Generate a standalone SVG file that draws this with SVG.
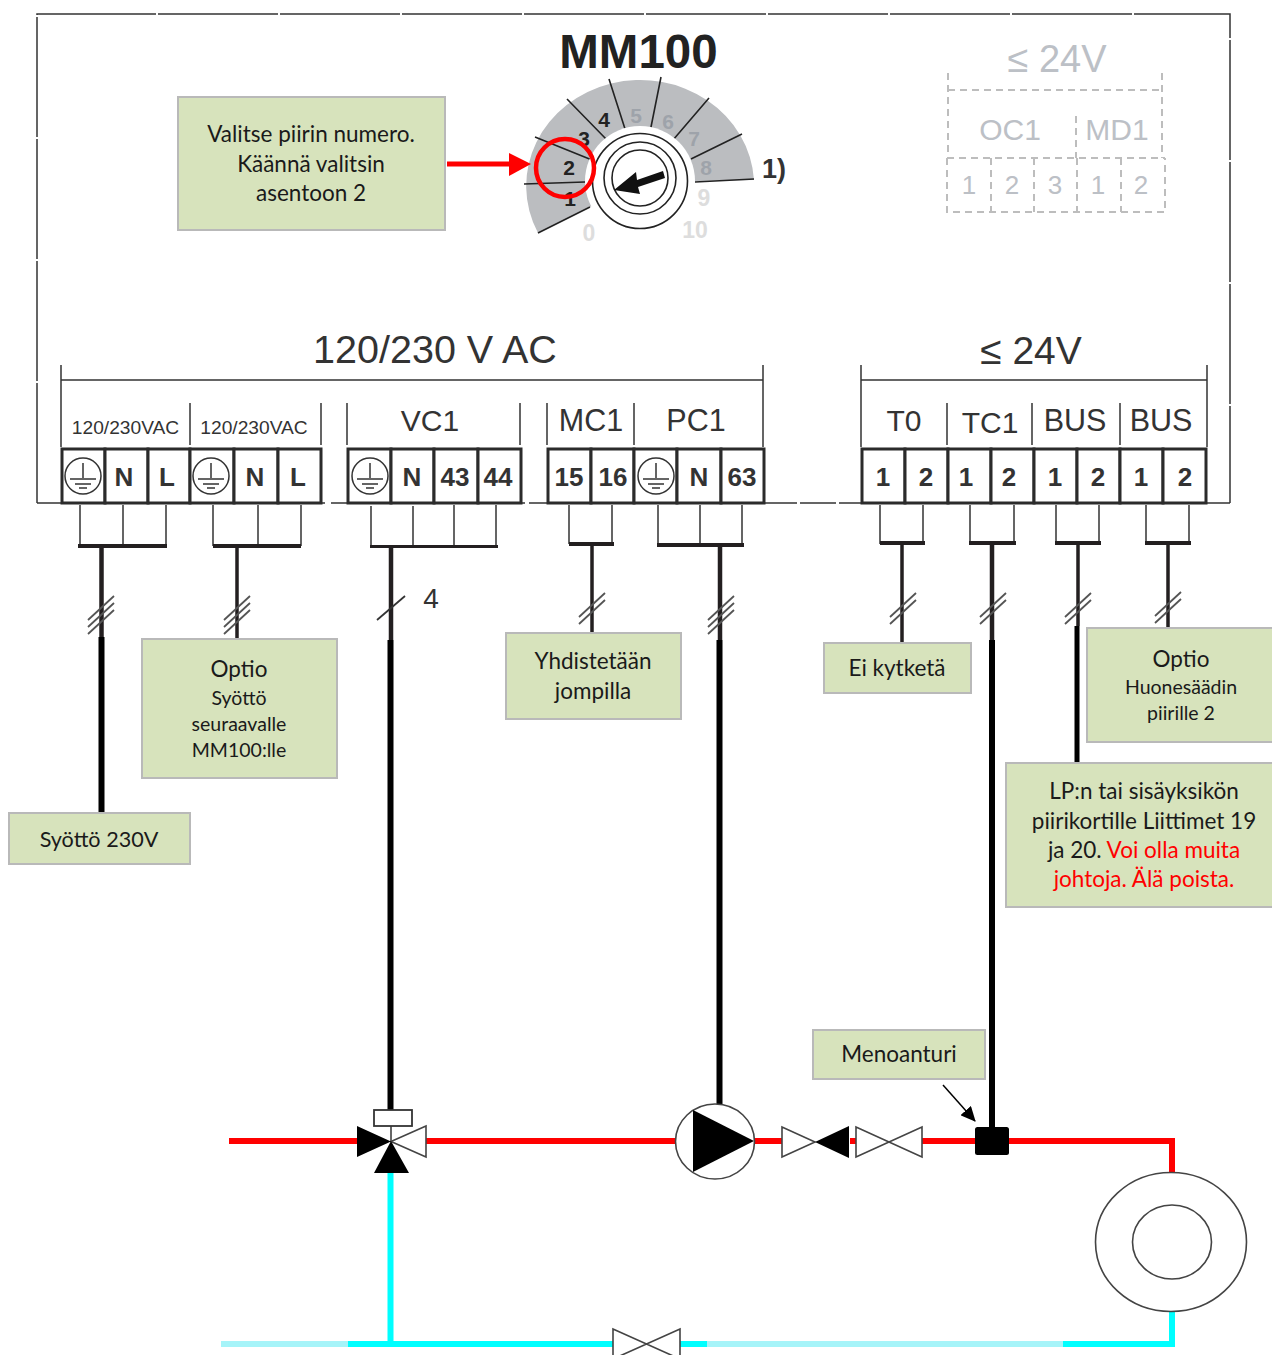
<svg xmlns="http://www.w3.org/2000/svg" width="1272" height="1355" viewBox="0 0 1272 1355">
<style>
text{font-family:"Liberation Sans",Arial,sans-serif;text-anchor:middle;fill:#333}
.b{font-weight:bold}
.note text{font-family:Lato,"Open Sans",sans-serif;fill:#1a1a1a;font-size:22.5px}
.note .s{font-size:19.5px}
.note .red{fill:#f00}
.box{fill:#d7e3bc;stroke:#b9b9b9;stroke-width:2}
.cell{fill:#fff;stroke:#2b2b2b;stroke-width:3}
.hdr{fill:none;stroke:#333;stroke-width:1.5}
.tick{fill:none;stroke:#333;stroke-width:1.5}
.bar{stroke:#231f20;stroke-width:4;fill:none}
.hash{stroke:#555;stroke-width:1.8;fill:none}
.wire{stroke:#231f20;fill:none}
.blk{stroke:#000;fill:none}
.hot{stroke:#f00;stroke-width:6;fill:none}
.cold{stroke:#0ff;stroke-width:6;fill:none}
.pale{stroke:#a6f4f9;stroke-width:6;fill:none}
.sym{fill:#fff;stroke:#444;stroke-width:1.6}
.dash{fill:none;stroke:#bdbdbd;stroke-width:2;stroke-dasharray:7 5}
.seg{stroke:#222;stroke-width:1.6;fill:none}
</style>
<defs>
<g id="gnd" fill="none" stroke="#333" stroke-width="1.5"><circle r="18"/><path d="M0-13V2M-13 3H13M-8 8H8M-4 12H4"/></g>
<marker id="ah" markerWidth="16" markerHeight="14" refX="14" refY="7" orient="auto" markerUnits="userSpaceOnUse"><path d="M0 0L15 7L0 14Z" fill="#000"/></marker>
<g id="hash3" class="hash"><path d="M-13 12L13-12M-13 19L13-5M-13 26L13 2"/></g>
<g id="hash2" class="hash"><path d="M-13 12L13-12M-13 19L13-5"/></g>
</defs>

<g id="frame" fill="none" stroke="#333" stroke-width="1.5">
<path d="M37 503V14H1230V503" stroke-dasharray="120 2"/>
<path d="M37 503H325M331 503H525M529 503H797M800 503H836M839 503H1230"/>
</g>

<g id="dial">
<path d="M538 233A114 106 0 1 1 754 180L640 182Z" fill="#bbbdc0"/>
<g class="seg">
<path d="M538 233L590 207M524 184L585 182M535 137L592 160M567 99L607 140M609 79L626 132M661 77L650 132M709 98L673 140M742 134L691 159M754 179L695 182"/>
</g>
<circle cx="640" cy="181" r="55" fill="#fff"/>
<circle cx="640" cy="181" r="47.500" fill="#fff" stroke="#222" stroke-width="1.600"/>
<circle cx="640" cy="178" r="36" fill="#fff" stroke="#222" stroke-width="1.600"/>
<circle cx="640" cy="178" r="28" fill="#fff" stroke="#222" stroke-width="1.600"/>
<path d="M663 171L637 180L636 172L614 190L640 194L638 187L665 178Z" fill="#111"/>
<text x="638.500" y="68" class="b" font-size="47.500" style="fill:#222">MM100</text>
<g class="b" font-size="21">
<text x="604" y="127" style="fill:#222">4</text><text x="584" y="146" style="fill:#222">3</text><text x="569" y="175" style="fill:#222">2</text><text x="570" y="206" style="fill:#222">1</text>
<text x="636" y="123" style="fill:#9ea3aa">5</text><text x="668" y="129" style="fill:#9ea3aa">6</text><text x="694" y="146" style="fill:#9ea3aa">7</text><text x="706" y="175" style="fill:#9ea3aa">8</text>
</g>
<g class="b" font-size="23">
<text x="704" y="206" style="fill:#ddd">9</text><text x="695" y="238" style="fill:#ddd">10</text><text x="589" y="241" style="fill:#ddd">0</text>
</g>
<text x="774" y="178" class="b" font-size="27">1)</text>
</g>

<g id="selector-note" class="note">
<rect class="box" x="178" y="97" width="267" height="133"/>
<text x="311" y="142">Valitse piirin numero.</text>
<text x="311" y="172">Käännä valitsin</text>
<text x="311" y="201">asentoon 2</text>
</g>
<g id="selector-arrow">
<path d="M447 164H512" stroke="#f00" stroke-width="5" fill="none"/>
<path d="M509 153L531 164L509 176Z" fill="#f00"/>
<circle cx="565" cy="168" r="29" fill="none" stroke="#f00" stroke-width="4.500"/>
</g>

<g id="optional-24v">
<text x="1057" y="72" font-size="38" style="fill:#bcc0c6">≤ 24V</text>
<path class="dash" d="M948 73V158M1162 73V158M948 90H1162M1076 116V158M947 158H1165M947 158V212H1165V158M991 158V212M1034 158V212M1077 158V212M1121 158V212"/>
<g font-size="30"><text x="1010" y="140" style="fill:#bcc0c6">OC1</text><text x="1117" y="140" style="fill:#bcc0c6">MD1</text></g>
<g font-size="26"><text x="969" y="194" style="fill:#bcc0c6">1</text><text x="1012" y="194" style="fill:#bcc0c6">2</text><text x="1055" y="194" style="fill:#bcc0c6">3</text><text x="1098" y="194" style="fill:#bcc0c6">1</text><text x="1141" y="194" style="fill:#bcc0c6">2</text></g>
</g>

<g id="header-ac">
<text x="435" y="363" font-size="39.500">120/230 V AC</text>
<path class="hdr" d="M61 447V365M61 380H763M763 365V447M190 403V445M321 403V445M347 403V445M520 403V445M547 403V445M634 403V445"/>
<text x="125.500" y="434" font-size="19.200">120/230VAC</text>
<text x="254" y="434" font-size="19.200">120/230VAC</text>
<text x="430" y="431" font-size="30">VC1</text>
<text x="591" y="431" font-size="30.500">MC1</text>
<text x="696" y="431" font-size="30.500">PC1</text>
</g>
<g id="header-24v">
<text x="1031" y="364" font-size="39">≤ 24V</text>
<path class="hdr" d="M861 447V365M861 380H1207M1207 365V447M947 403V445M1032 403V445M1120 403V445"/>
<text x="904" y="431" font-size="30">T0</text>
<text x="990" y="433" font-size="30">TC1</text>
<text x="1075" y="431" font-size="30.500">BUS</text>
<text x="1161" y="431" font-size="30.500">BUS</text>
</g>

<g id="terminal-supply" class="b" font-size="26">
<rect class="cell" x="62" y="449" width="43" height="54"/><rect class="cell" x="105" y="449" width="43" height="54"/><rect class="cell" x="148" y="449" width="42" height="54"/><rect class="cell" x="190" y="449" width="44" height="54"/><rect class="cell" x="234" y="449" width="44" height="54"/><rect class="cell" x="278" y="449" width="43" height="54"/>
<use href="#gnd" x="83" y="476"/><use href="#gnd" x="211" y="476"/>
<text x="124" y="486">N</text><text x="167" y="486">L</text><text x="255" y="486">N</text><text x="298" y="486">L</text>
</g>
<g id="terminal-vc1" class="b" font-size="26">
<rect class="cell" x="348" y="449" width="43" height="54"/><rect class="cell" x="391" y="449" width="43" height="54"/><rect class="cell" x="434" y="449" width="44" height="54"/><rect class="cell" x="478" y="449" width="43" height="54"/>
<use href="#gnd" x="370" y="476"/>
<text x="412" y="486">N</text><text x="455" y="486">43</text><text x="498" y="486">44</text>
</g>
<g id="terminal-mc1-pc1" class="b" font-size="26">
<rect class="cell" x="548" y="449" width="43" height="54"/><rect class="cell" x="591" y="449" width="43" height="54"/><rect class="cell" x="634" y="449" width="43" height="54"/><rect class="cell" x="677" y="449" width="44" height="54"/><rect class="cell" x="721" y="449" width="43" height="54"/>
<use href="#gnd" x="656" y="476"/>
<text x="569" y="486">15</text><text x="613" y="486">16</text><text x="699" y="486">N</text><text x="742" y="486">63</text>
</g>
<g id="terminal-low" class="b" font-size="26">
<rect class="cell" x="862" y="449" width="43" height="54"/><rect class="cell" x="905" y="449" width="43" height="54"/><rect class="cell" x="948" y="449" width="43" height="54"/><rect class="cell" x="991" y="449" width="43" height="54"/><rect class="cell" x="1034" y="449" width="43" height="54"/><rect class="cell" x="1077" y="449" width="43" height="54"/><rect class="cell" x="1120" y="449" width="43" height="54"/><rect class="cell" x="1163" y="449" width="43" height="54"/>
<text x="883" y="486">1</text><text x="926" y="486">2</text><text x="966" y="486">1</text><text x="1009" y="486">2</text><text x="1055" y="486">1</text><text x="1098" y="486">2</text><text x="1141" y="486">1</text><text x="1185" y="486">2</text>
</g>

<g id="connectors">
<path class="tick" d="M80 505V546M123 505V546M166 505V546M213 505V546M258 505V546M301 505V546M371 506V546M413 506V546M454 505V546M496 505V546M569 505V544M612 505V544M658 505V545M700 505V545M742 505V545M880 505V544M923 505V544M970 505V544M1014 505V544M1056 505V544M1099 505V544M1146 505V544M1189 505V544"/>
<path class="bar" d="M78 546H167M213 546H301"/>
<path class="bar" style="stroke-width:3" d="M370 546.500H498"/>
<path class="bar" d="M569 544H614M657 545H744M880 543H925M969 543H1016M1055 543H1101M1145 543H1191"/>
<path class="wire" stroke-width="4.500" d="M101.500 546V637M391 546V640M720 546V640M992 543V640"/>
<path class="wire" stroke-width="3.500" d="M237 546V638M592 544V632M902 543V642M1078 543V626M1168 543V628"/>
<path class="blk" stroke-width="6" d="M101.500 637V812M390.500 640V1110M719.500 640V1105M992 640V1130"/>
<path class="blk" stroke-width="5" d="M1077 626V763"/>
<use href="#hash3" x="101" y="608"/><use href="#hash3" x="237" y="608"/><use href="#hash2" x="592" y="605"/><use href="#hash3" x="721" y="608"/><use href="#hash2" x="903" y="605"/><use href="#hash2" x="993" y="605"/><use href="#hash2" x="1078" y="605"/><use href="#hash2" x="1168" y="604"/>
<path d="M377 620L405 596" stroke="#333" stroke-width="1.800" fill="none"/>
<text x="431" y="608" font-size="28">4</text>
<path d="M943 1085L975 1121" stroke="#000" stroke-width="1.500" fill="none" marker-end="url(#ah)"/>
</g>

<g id="pipes">
<path class="hot" d="M229 1141H358M425 1141H677M755 1141H782M850 1141H856M922 1141H975M1009 1141H1172V1175"/>
<path class="pale" d="M221 1344H348M707 1344H1063"/>
<path class="cold" d="M390.500 1172V1344M348 1344H613M680 1344H707M1063 1344H1172V1312"/>
</g>

<g id="mixing-valve">
<rect x="374" y="1110" width="38" height="16" fill="#fff" stroke="#333" stroke-width="1.800"/>
<path d="M391 1126V1141" stroke="#333" stroke-width="1.500"/>
<path class="sym" d="M426 1126V1157L391 1141.500Z"/>
<path d="M357 1126V1157L391 1141.500ZM391 1141L374 1173H409Z" fill="#000"/>
</g>
<g id="pump">
<ellipse class="sym" cx="715" cy="1141.500" rx="39.500" ry="37.500"/>
<path d="M693 1110V1172L754 1141Z" fill="#000"/>
</g>
<g id="valve-1">
<path class="sym" d="M782 1127V1157L815 1142Z"/>
<path d="M849 1126V1158L815 1142Z" fill="#000"/>
</g>
<g id="valve-2"><path class="sym" d="M856 1127V1157L922 1127V1157Z"/></g>
<g id="valve-3"><path class="sym" d="M613 1329V1359L680 1329V1359Z"/></g>
<g id="sensor"><rect x="975" y="1127" width="34" height="28" rx="2.500" fill="#000"/></g>
<g id="radiator" fill="#fff" stroke="#444" stroke-width="1.600">
<ellipse cx="1171" cy="1242" rx="75.500" ry="69.500"/>
<ellipse cx="1172" cy="1242" rx="39.500" ry="37"/>
</g>

<g id="note-optio-syotto" class="note">
<rect class="box" x="142" y="639" width="195" height="139"/>
<text x="239" y="677">Optio</text>
<text class="s" x="239" y="705">Syöttö</text>
<text class="s" x="239" y="731">seuraavalle</text>
<text class="s" x="239" y="757">MM100:lle</text>
</g>
<g id="note-syotto" class="note">
<rect class="box" x="9" y="813" width="181" height="51"/>
<text x="99" y="847" style="font-size:21.600px">Syöttö 230V</text>
</g>
<g id="note-yhdistetaan" class="note">
<rect class="box" x="506" y="633" width="175" height="86"/>
<text x="593" y="669">Yhdistetään</text>
<text x="593" y="699">jompilla</text>
</g>
<g id="note-ei" class="note">
<rect class="box" x="824" y="643" width="147" height="50"/>
<text x="897" y="676">Ei kytketä</text>
</g>
<g id="note-huone" class="note">
<rect class="box" x="1087" y="628" width="187" height="114"/>
<text x="1181" y="667">Optio</text>
<text class="s" x="1181" y="694">Huonesäädin</text>
<text class="s" x="1181" y="720">piirille 2</text>
</g>
<g id="note-lp" class="note">
<rect class="box" x="1006" y="763" width="268" height="144"/>
<text x="1144" y="799">LP:n tai sisäyksikön</text>
<text x="1144" y="829">piirikortille Liittimet 19</text>
<text x="1144" y="858">ja 20. <tspan class="red">Voi olla muita</tspan></text>
<text x="1144" y="887" class="red">johtoja. Älä poista.</text>
</g>
<g id="note-menoanturi" class="note">
<rect class="box" x="813" y="1030" width="172" height="49"/>
<text x="899" y="1062">Menoanturi</text>
</g>
</svg>
